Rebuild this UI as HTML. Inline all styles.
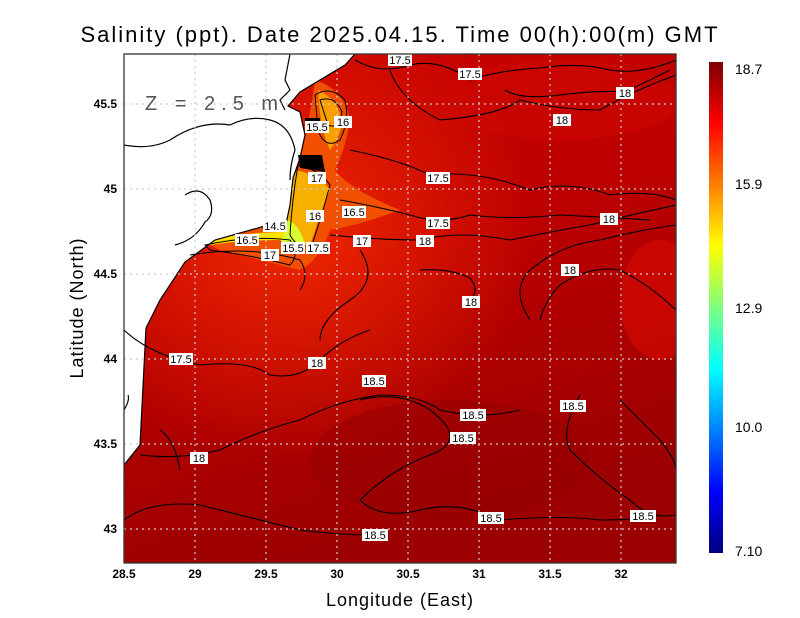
<!DOCTYPE html>
<html><head><meta charset="utf-8"><style>
html,body{margin:0;padding:0;background:#fff}
svg{display:block}
text{font-family:"Liberation Sans",sans-serif}
</style></head><body>
<svg width="800" height="618" viewBox="0 0 800 618" xmlns="http://www.w3.org/2000/svg">
<defs>
<linearGradient id="jet" x1="0" y1="1" x2="0" y2="0">
<stop offset="0" stop-color="#00007f"/><stop offset="0.125" stop-color="#0000ff"/>
<stop offset="0.375" stop-color="#00ffff"/><stop offset="0.5" stop-color="#7fff7f"/>
<stop offset="0.625" stop-color="#ffff00"/><stop offset="0.875" stop-color="#ff0000"/>
<stop offset="1" stop-color="#7f0000"/></linearGradient>
<linearGradient id="sea" x1="0" y1="0" x2="0.3" y2="1">
<stop offset="0" stop-color="#cc0400"/><stop offset="0.5" stop-color="#bb0000"/>
<stop offset="1" stop-color="#9c0000"/></linearGradient>
<radialGradient id="coast" cx="0.3" cy="0.35" r="0.45">
<stop offset="0" stop-color="#f02800"/><stop offset="1" stop-color="#f02800" stop-opacity="0"/></radialGradient>
<clipPath id="pc"><rect x="124" y="54" width="552" height="509"/></clipPath>
</defs>
<text x="400" y="42" font-size="22" text-anchor="middle" fill="#000" letter-spacing="2">Salinity (ppt). Date 2025.04.15. Time 00(h):00(m) GMT</text>
<g clip-path="url(#pc)">
<rect x="124" y="54" width="552" height="509" fill="url(#sea)"/>
<rect x="124" y="54" width="552" height="509" fill="url(#coast)"/>
<ellipse cx="560" cy="100" rx="120" ry="40" fill="#d00800" opacity="0.5"/>
<ellipse cx="660" cy="300" rx="40" ry="60" fill="#d80a00" opacity="0.6"/>
<ellipse cx="450" cy="460" rx="140" ry="60" fill="#960000" opacity="0.5"/>
<path d="M315 80 Q345 90 350 120 Q345 150 335 170 Q350 190 400 210 Q360 225 330 230 Q320 260 300 270 Q260 260 220 250 L200 240 Q250 228 285 225 Q295 190 300 160 Q310 120 315 80Z" fill="#f05000"/>
<path d="M318 90 Q340 100 342 125 Q338 140 330 150 Q320 130 318 90Z" fill="#f8a000"/>
<path d="M295 170 Q320 175 330 190 Q320 215 310 245 Q295 250 285 240 Q290 200 295 170Z" fill="#f8b000"/>
<path d="M288 220 Q300 225 305 245 Q290 250 280 240 Z" fill="#d8ff30"/>
<path d="M205 240 Q250 232 285 232 L282 240 Q240 240 210 245Z" fill="#ffe000"/>
<path d="M124 54 L355 54 L345 65 L300 92 L288 106 L300 112 L305 135 L300 158 L293 178 L290 205 L286 224 L265 226 L215 240 L185 262 L160 300 L146 328 L140 445 L124 465 Z" fill="#fff"/>
<g fill="none" stroke="#000" stroke-width="1.2">
<path d="M124 465 L140 445 L146 328 L160 300 L185 262 L215 240 L265 226 L286 224 L290 205 L293 178 L300 158 L305 135 L300 112 L288 106 L300 92 L345 65 L355 54"/>
<path d="M124 145 Q150 150 170 140 Q200 120 230 125 Q250 115 270 120 Q290 125 295 150 Q290 165 290 180"/>
<path d="M124 410 Q130 400 128 395"/>
<path d="M185 195 Q200 185 210 200 Q215 215 205 222 Q195 240 175 245"/>
<path d="M290 54 L285 80 L290 90 L280 100 L285 110"/>
</g>
<g fill="none" stroke="#000" stroke-width="1.1">
<path d="M355 60 Q380 75 410 65 Q440 58 470 80 Q500 70 540 68 Q580 62 610 70 Q640 75 676 60"/>
<path d="M390 70 Q400 100 440 120 Q500 115 520 100 Q560 110 600 110 Q630 92 676 75"/>
<path d="M505 90 Q520 100 560 95 Q600 90 625 92 Q650 80 670 70"/>
<path d="M350 150 Q400 160 430 175 Q480 170 530 190 Q570 180 610 195 Q650 190 676 200"/>
<path d="M340 200 Q370 205 410 215 Q440 225 470 215 Q510 220 560 215 Q620 218 650 220"/>
<path d="M330 235 Q380 240 420 240 Q460 230 510 240 Q560 230 590 225 Q630 215 676 205"/>
<path d="M360 250 Q380 280 350 300 Q320 320 320 340"/>
<path d="M420 270 Q450 268 470 278 Q480 290 470 300"/>
<path d="M530 320 Q510 290 530 270 Q560 245 600 240 Q640 230 676 225"/>
<path d="M540 320 Q545 300 560 285 Q590 265 620 270 Q650 285 676 310"/>
<path d="M124 330 Q150 355 200 365 Q250 360 270 375 Q300 380 320 360 Q340 340 370 330"/>
<path d="M140 455 Q180 460 220 450 Q260 430 300 420 Q340 400 380 395 Q420 395 440 410 Q480 420 520 410"/>
<path d="M360 400 Q400 390 430 410 Q470 440 430 455 Q390 470 360 500 Q380 520 420 510 Q460 500 500 520 Q560 515 600 520 Q640 520 660 515"/>
<path d="M580 395 Q560 430 570 450 Q600 480 630 500 Q650 520 676 515"/>
<path d="M620 400 Q640 420 660 440 Q676 460 676 470"/>
<path d="M124 520 Q150 500 200 505 Q260 520 300 530 Q340 535 370 535"/>
<path d="M160 430 Q175 440 180 470"/>
</g>
<g fill="none" stroke="#000" stroke-width="1">
<path d="M315 95 Q330 85 345 100 Q350 120 340 140 Q325 150 318 130 Z"/>
<path d="M320 100 Q335 95 342 112 Q338 130 328 125 Z"/>
<path d="M298 165 Q320 170 330 185 Q322 215 312 245 Q298 250 290 235 Q292 200 298 165Z"/>
<path d="M205 245 Q250 235 290 240 Q300 255 290 265 Q250 255 210 250Z"/>
<path d="M190 255 Q250 245 300 260 Q310 275 300 290"/>
</g>
<path d="M298 155 L322 155 L325 172 L300 168Z" fill="#000"/>
<path d="M305 118 L320 118 L320 132 L305 132Z" fill="#000"/>
<g stroke="#ccc" stroke-width="1.2" stroke-dasharray="2,4">
<line x1="195" y1="54" x2="195" y2="563"/><line x1="266" y1="54" x2="266" y2="563"/><line x1="337" y1="54" x2="337" y2="563"/><line x1="408" y1="54" x2="408" y2="563"/><line x1="479" y1="54" x2="479" y2="563"/><line x1="550" y1="54" x2="550" y2="563"/><line x1="621" y1="54" x2="621" y2="563"/>
<line x1="124" y1="104" x2="676" y2="104"/><line x1="124" y1="189" x2="676" y2="189"/><line x1="124" y1="274" x2="676" y2="274"/><line x1="124" y1="359" x2="676" y2="359"/><line x1="124" y1="444" x2="676" y2="444"/><line x1="124" y1="529" x2="676" y2="529"/>
</g>
<g font-size="11" text-anchor="middle">
<g fill="#fff">
<rect x="388" y="54" width="24" height="12"/><rect x="458" y="68" width="24" height="12"/><rect x="616" y="87" width="18" height="12"/><rect x="553" y="114" width="18" height="12"/>
<rect x="305" y="121" width="24" height="12"/><rect x="334" y="116" width="18" height="12"/><rect x="308" y="172" width="18" height="12"/><rect x="426" y="172" width="24" height="12"/>
<rect x="342" y="206" width="24" height="12"/><rect x="306" y="210" width="18" height="12"/><rect x="426" y="217" width="24" height="12"/><rect x="600" y="213" width="18" height="12"/>
<rect x="263" y="220" width="24" height="12"/><rect x="235" y="234" width="24" height="12"/><rect x="353" y="235" width="18" height="12"/><rect x="416" y="235" width="18" height="12"/>
<rect x="281" y="242" width="24" height="12"/><rect x="306" y="242" width="24" height="12"/><rect x="261" y="249" width="18" height="12"/><rect x="561" y="264" width="18" height="12"/>
<rect x="462" y="296" width="18" height="12"/><rect x="169" y="353" width="24" height="12"/><rect x="308" y="357" width="18" height="12"/><rect x="362" y="375" width="24" height="12"/>
<rect x="460" y="409" width="26" height="12"/><rect x="560" y="400" width="26" height="12"/><rect x="450" y="432" width="26" height="12"/><rect x="190" y="452" width="18" height="12"/>
<rect x="478" y="512" width="26" height="12"/><rect x="630" y="510" width="26" height="12"/><rect x="362" y="529" width="26" height="12"/>
</g>
<text x="400" y="64">17.5</text><text x="470" y="78">17.5</text><text x="625" y="97">18</text><text x="562" y="124">18</text>
<text x="317" y="131">15.5</text><text x="343" y="126">16</text><text x="317" y="182">17</text><text x="438" y="182">17.5</text>
<text x="354" y="216">16.5</text><text x="315" y="220">16</text><text x="438" y="227">17.5</text><text x="609" y="223">18</text>
<text x="275" y="230">14.5</text><text x="247" y="244">16.5</text><text x="362" y="245">17</text><text x="425" y="245">18</text>
<text x="293" y="252">15.5</text><text x="318" y="252">17.5</text><text x="270" y="259">17</text><text x="570" y="274">18</text>
<text x="471" y="306">18</text><text x="181" y="363">17.5</text><text x="317" y="367">18</text><text x="374" y="385">18.5</text>
<text x="473" y="419">18.5</text><text x="573" y="410">18.5</text><text x="463" y="442">18.5</text><text x="199" y="462">18</text>
<text x="491" y="522">18.5</text><text x="643" y="520">18.5</text><text x="375" y="539">18.5</text>
</g>
<text x="145" y="110" font-size="20" fill="#555" letter-spacing="6">Z = 2.5 m</text>
</g>
<rect x="124" y="54" width="552" height="509" fill="none" stroke="#333" stroke-width="1.3"/>
<g font-size="12" font-weight="bold" text-anchor="middle" fill="#000">
<text x="124" y="578">28.5</text><text x="195" y="578">29</text><text x="266" y="578">29.5</text><text x="337" y="578">30</text><text x="408" y="578">30.5</text><text x="479" y="578">31</text><text x="550" y="578">31.5</text><text x="621" y="578">32</text>
</g>
<g font-size="12" font-weight="bold" text-anchor="end" fill="#000">
<text x="117" y="108">45.5</text><text x="117" y="193">45</text><text x="117" y="278">44.5</text><text x="117" y="363">44</text><text x="117" y="448">43.5</text><text x="117" y="533">43</text>
</g>
<text x="400" y="606" font-size="18" text-anchor="middle" letter-spacing="1">Longitude (East)</text>
<text transform="translate(83,308) rotate(-90)" font-size="18" text-anchor="middle" letter-spacing="1">Latitude (North)</text>
<rect x="709" y="62" width="14" height="491" fill="url(#jet)"/>
<g font-size="14" fill="#000">
<text x="735" y="74">18.7</text><text x="735" y="189">15.9</text><text x="735" y="313">12.9</text><text x="735" y="432">10.0</text><text x="735" y="556">7.10</text>
</g>
</svg>
</body></html>
